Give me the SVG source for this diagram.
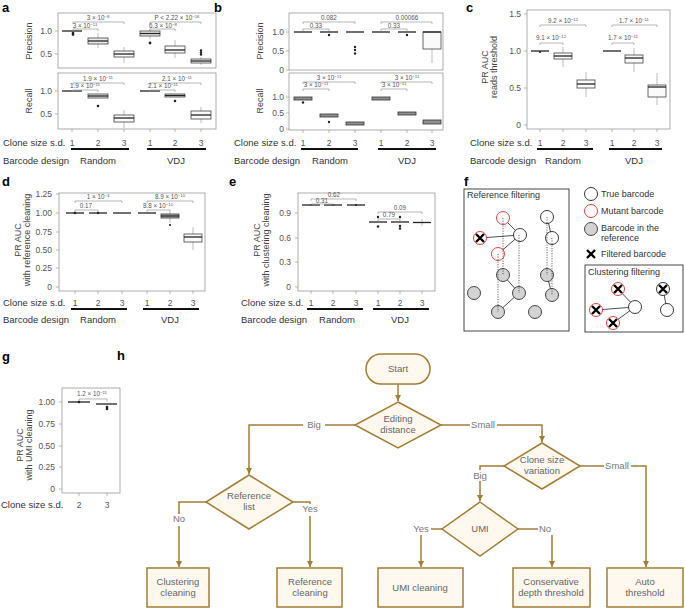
<svg xmlns="http://www.w3.org/2000/svg" width="685" height="608" viewBox="0 0 685 608">
<defs>
<marker id="ah" markerUnits="userSpaceOnUse" markerWidth="7" markerHeight="7" refX="6" refY="3" orient="auto"><path d="M0,0 L6,3 L0,6 z" fill="#a47d35"/></marker>
</defs>
<style>
text{font-family:"Liberation Sans",Arial,sans-serif;fill:#3a3a3a}
.pl{font-size:13px;font-weight:bold;fill:#000}
.ax{font-size:8.5px;fill:#555;text-anchor:end}
.xt{font-size:8.5px;fill:#555;text-anchor:middle}
.yl{font-size:9px;fill:#444;text-anchor:middle}
.cs{font-size:9.5px;fill:#333}
.gm{font-size:9.5px;fill:#333;text-anchor:middle}
.pv{font-size:6.3px;fill:#555;text-anchor:middle}
.sp{font-size:4.3px}
.fr{fill:none;stroke:#9a9a9a;stroke-width:0.8}
.bx{fill:#ececec;stroke:#444;stroke-width:0.8}
.bw{fill:#fafafa;stroke:#444;stroke-width:0.8}
.bd{fill:#8f8f8f;stroke:#333;stroke-width:0.8}
.md{stroke:#222;stroke-width:1.3}
.wh{stroke:#aaa;stroke-width:0.8}
.br{fill:none;stroke:#9a9a9a;stroke-width:0.7}
.gl{stroke:#111;stroke-width:1.8}
.tk{stroke:#9a9a9a;stroke-width:0.7}
.dt{fill:#222}
.lg{font-size:9px;fill:#333}
.cw{fill:#fff;stroke:#222;stroke-width:0.9}
.cr{fill:#fff;stroke:#e0443c;stroke-width:1}
.cg{fill:#d3d3d3;stroke:#333;stroke-width:0.9}
.xm{stroke:#000;stroke-width:2.3}
.sl{stroke:#222;stroke-width:0.8}
.dl{stroke:#222;stroke-width:0.7;stroke-dasharray:1.2 1.3}
.fb{fill:none;stroke:#333;stroke-width:0.9}
.fc{fill:#fef8ee;stroke:#a47d35;stroke-width:1.5}
.fl{fill:none;stroke:#a47d35;stroke-width:1.5}
.ft{font-size:9.5px;fill:#666;text-anchor:middle}
.lb{font-size:9.5px;fill:#777;text-anchor:middle}
.lbg{fill:#fff}
</style>

<!-- Panel a -->
<g id="panel-a">
<text class="pl" x="2" y="12">a</text>
<rect class="fr" x="58" y="13" width="158" height="55"/>
<rect class="fr" x="58" y="73" width="158" height="56"/>
<path class="tk" d="M55,31H58M55,54H58M55,91H58M55,114H58M72,129V132M98,129V132M124,129V132M150,129V132M175,129V132M201,129V132"/>
<text class="ax" x="52" y="34">1.0</text><text class="ax" x="52" y="57">0.5</text>
<text class="ax" x="52" y="94">1.0</text><text class="ax" x="52" y="117">0.5</text>
<text class="yl" transform="translate(32,41) rotate(-90)">Precision</text>
<text class="yl" transform="translate(32,101) rotate(-90)">Recall</text>
<line class="md" x1="62" y1="31" x2="82" y2="31"/><circle class="dt" cx="73" cy="33" r="1.3"/><circle class="dt" cx="73" cy="34.6" r="1.3"/>
<line class="wh" x1="98" y1="33" x2="98" y2="48"/><rect class="bx" x="88" y="38" width="20" height="6"/><line class="md" x1="88" y1="41" x2="108" y2="41"/>
<line class="wh" x1="124" y1="47" x2="124" y2="63"/><rect class="bw" x="114" y="51" width="20" height="6"/><line class="md" x1="114" y1="54" x2="134" y2="54"/>
<line class="wh" x1="150" y1="29" x2="150" y2="39"/><rect class="bx" x="140" y="31" width="20" height="5"/><line class="md" x1="140" y1="33.5" x2="160" y2="33.5"/><circle class="dt" cx="150" cy="43" r="1.4"/>
<line class="wh" x1="175" y1="40" x2="175" y2="58"/><rect class="bw" x="165" y="46" width="20" height="7"/><line class="md" x1="165" y1="50" x2="185" y2="50"/>
<line class="wh" x1="201" y1="57" x2="201" y2="65"/><rect class="bw" x="191" y="59" width="20" height="4"/><line class="md" x1="191" y1="61" x2="211" y2="61"/>
<circle class="dt" cx="201" cy="50.5" r="1.2"/><circle class="dt" cx="201" cy="52.5" r="1.2"/><circle class="dt" cx="201" cy="54.5" r="1.2"/>
<line class="md" x1="62" y1="91" x2="82" y2="91"/>
<rect class="bx" x="88" y="94" width="20" height="4"/><line class="md" x1="88" y1="96" x2="108" y2="96"/><circle class="dt" cx="98" cy="106" r="1.3"/>
<line class="wh" x1="124" y1="110" x2="124" y2="128"/><rect class="bw" x="114" y="115" width="20" height="7"/><line class="md" x1="114" y1="118" x2="134" y2="118"/>
<line class="md" x1="140" y1="91" x2="160" y2="91"/>
<rect class="bx" x="165" y="94" width="20" height="3"/><line class="md" x1="165" y1="95.5" x2="185" y2="95.5"/><circle class="dt" cx="175" cy="101" r="1.3"/>
<line class="wh" x1="201" y1="107" x2="201" y2="123"/><rect class="bw" x="191" y="111" width="20" height="8"/><line class="md" x1="191" y1="115" x2="211" y2="115"/>
<path class="br" d="M73,24V22H124V24M73,31V29H98V31M150,24V22H201V24M150,31V29H175V31"/>
<text class="pv" x="98" y="20">3 × 10<tspan class="sp" dy="-2.5">−8</tspan></text>
<text class="pv" x="85" y="28">3 × 10<tspan class="sp" dy="-2.5">−11</tspan></text>
<text class="pv" x="177" y="20">P &lt; 2.22 × 10<tspan class="sp" dy="-2.5">−16</tspan></text>
<text class="pv" x="163" y="28">6.3 × 10<tspan class="sp" dy="-2.5">−8</tspan></text>
<path class="br" d="M73,85V83H124V85M73,92V90H98V92M150,85V83H201V85M150,92V90H175V92"/>
<text class="pv" x="98" y="81">1.9 × 10<tspan class="sp" dy="-2.5">−11</tspan></text>
<text class="pv" x="85" y="88">1.9 × 10<tspan class="sp" dy="-2.5">−11</tspan></text>
<text class="pv" x="177" y="81">2.1 × 10<tspan class="sp" dy="-2.5">−11</tspan></text>
<text class="pv" x="163" y="88">2.1 × 10<tspan class="sp" dy="-2.5">−11</tspan></text>
<text class="cs" x="3" y="146">Clone size s.d.</text>
<text class="xt" x="72" y="146">1</text><text class="xt" x="98" y="146">2</text><text class="xt" x="124" y="146">3</text>
<text class="xt" x="150" y="146">1</text><text class="xt" x="175" y="146">2</text><text class="xt" x="201" y="146">3</text>
<path class="gl" d="M71,149H129M147,149H206"/>
<text class="cs" x="3" y="164">Barcode design</text>
<text class="gm" x="98" y="164">Random</text><text class="gm" x="176" y="164">VDJ</text>
</g>

<!-- Panel b -->
<g id="panel-b">
<text class="pl" x="214" y="12">b</text>
<rect class="fr" x="289" y="13" width="154" height="57"/>
<rect class="fr" x="289" y="73" width="154" height="57"/>
<path class="tk" d="M286,32H289M286,51H289M286,70H289M286,97H289M286,113H289M286,129H289M303,130V133M329,130V133M355,130V133M381,130V133M407,130V133M432,130V133"/>
<text class="ax" x="284" y="35">1.0</text><text class="ax" x="284" y="54">0.5</text><text class="ax" x="284" y="73">0</text>
<text class="ax" x="284" y="100">1.0</text><text class="ax" x="284" y="116">0.5</text><text class="ax" x="284" y="132">0</text>
<text class="yl" transform="translate(263,41) rotate(-90)">Precision</text>
<text class="yl" transform="translate(263,101) rotate(-90)">Recall</text>
<line class="md" x1="294" y1="32" x2="312" y2="32"/>
<line class="md" x1="320" y1="32" x2="338" y2="32"/><circle class="dt" cx="329" cy="35" r="1.2"/>
<line class="md" x1="346" y1="32" x2="364" y2="32"/><circle class="dt" cx="355" cy="47" r="1.2"/><circle class="dt" cx="355" cy="50" r="1.2"/><circle class="dt" cx="355" cy="53.5" r="1.2"/>
<line class="md" x1="372" y1="32" x2="390" y2="32"/>
<line class="md" x1="398" y1="32" x2="416" y2="32"/><circle class="dt" cx="407" cy="35" r="1.2"/>
<line class="wh" x1="432" y1="49" x2="432" y2="63"/><rect class="bw" x="423" y="32" width="18" height="17"/><line class="md" x1="423" y1="32" x2="441" y2="32"/>
<rect class="bd" x="294" y="97" width="18" height="3"/><circle class="dt" cx="303" cy="102.5" r="1.2"/>
<rect class="bd" x="320" y="114" width="18" height="3"/><circle class="dt" cx="329" cy="122" r="1.2"/>
<rect class="bd" x="346" y="122" width="18" height="3"/>
<rect class="bd" x="372" y="97" width="18" height="3"/>
<rect class="bd" x="398" y="112" width="18" height="3"/>
<rect class="bd" x="423" y="120" width="18" height="4"/>
<path class="br" d="M303,24V22H355V24M303,31V29H329V31M381,24V22H432V24M381,31V29H407V31"/>
<text class="pv" x="329" y="20">0.082</text>
<text class="pv" x="316" y="28">0.33</text>
<text class="pv" x="407" y="20">0.00066</text>
<text class="pv" x="394" y="28">0.33</text>
<path class="br" d="M303,84V82H355V84M303,91V89H329V91M381,84V82H432V84M381,91V89H407V91"/>
<text class="pv" x="329" y="80">3 × 10<tspan class="sp" dy="-2.5">−11</tspan></text>
<text class="pv" x="316" y="87">3 × 10<tspan class="sp" dy="-2.5">−11</tspan></text>
<text class="pv" x="407" y="80">3 × 10<tspan class="sp" dy="-2.5">−11</tspan></text>
<text class="pv" x="394" y="87">3 × 10<tspan class="sp" dy="-2.5">−11</tspan></text>
<text class="cs" x="234" y="146">Clone size s.d.</text>
<text class="xt" x="303" y="146">1</text><text class="xt" x="329" y="146">2</text><text class="xt" x="355" y="146">3</text>
<text class="xt" x="381" y="146">1</text><text class="xt" x="407" y="146">2</text><text class="xt" x="432" y="146">3</text>
<path class="gl" d="M301,149H358M378,149H436"/>
<text class="cs" x="234" y="164">Barcode design</text>
<text class="gm" x="330" y="164">Random</text><text class="gm" x="407" y="164">VDJ</text>
</g>

<!-- Panel c -->
<g id="panel-c">
<text class="pl" x="466" y="12">c</text>
<rect class="fr" x="527" y="10" width="143" height="119"/>
<path class="tk" d="M524,14H527M524,51H527M524,88H527M524,125H527M540,129V132M563,129V132M586,129V132M612,129V132M634,129V132M657,129V132"/>
<text class="ax" x="521" y="17">1.5</text><text class="ax" x="521" y="54">1.0</text><text class="ax" x="521" y="91">0.5</text><text class="ax" x="521" y="128">0</text>
<text class="yl" transform="translate(488,67) rotate(-90)">PR AUC</text>
<text class="yl" transform="translate(497,67) rotate(-90)">reads threshold</text>
<line class="md" x1="531" y1="51" x2="549" y2="51"/><circle class="dt" cx="540" cy="52" r="1.1"/>
<line class="wh" x1="563" y1="47" x2="563" y2="67"/><rect class="bw" x="554" y="53" width="18" height="6"/><line class="md" x1="554" y1="56" x2="572" y2="56"/>
<line class="wh" x1="586" y1="72" x2="586" y2="97"/><rect class="bw" x="577" y="80" width="18" height="8"/><line class="md" x1="577" y1="84" x2="595" y2="84"/>
<line class="md" x1="603" y1="51" x2="621" y2="51"/>
<line class="wh" x1="634" y1="48" x2="634" y2="72"/><rect class="bw" x="625" y="55" width="18" height="8"/><line class="md" x1="625" y1="58" x2="643" y2="58"/>
<line class="wh" x1="657" y1="73" x2="657" y2="105"/><rect class="bw" x="648" y="85" width="18" height="12"/><line class="md" x1="648" y1="87" x2="666" y2="87"/>
<path class="br" d="M540,27V25H586V27M540,45V43H563V45M612,27V25H657V27M612,45V43H634V45"/>
<text class="pv" x="563" y="23">9.2 × 10<tspan class="sp" dy="-2.5">−12</tspan></text>
<text class="pv" x="551" y="40">9.1 × 10<tspan class="sp" dy="-2.5">−12</tspan></text>
<text class="pv" x="634" y="23">1.7 × 10<tspan class="sp" dy="-2.5">−11</tspan></text>
<text class="pv" x="623" y="40">1.7 × 10<tspan class="sp" dy="-2.5">−11</tspan></text>
<text class="cs" x="470" y="146">Clone size s.d.</text>
<text class="xt" x="540" y="146">1</text><text class="xt" x="563" y="146">2</text><text class="xt" x="586" y="146">3</text>
<text class="xt" x="612" y="146">1</text><text class="xt" x="634" y="146">2</text><text class="xt" x="657" y="146">3</text>
<path class="gl" d="M537,149H593M609,149H662"/>
<text class="cs" x="470" y="164">Barcode design</text>
<text class="gm" x="563" y="164">Random</text><text class="gm" x="634" y="164">VDJ</text>
</g>

<!-- Panel d -->
<g id="panel-d">
<text class="pl" x="2" y="186">d</text>
<rect class="fr" x="59" y="193" width="146" height="98"/>
<path class="tk" d="M56,194H59M56,213H59M56,232H59M56,250H59M56,268H59M56,287H59M75,291V294M98,291V294M122,291V294M147,291V294M170,291V294M193,291V294"/>
<text class="ax" x="52" y="197">1.25</text><text class="ax" x="52" y="216">1.00</text><text class="ax" x="52" y="235">0.75</text>
<text class="ax" x="52" y="253">0.50</text><text class="ax" x="52" y="271">0.25</text><text class="ax" x="52" y="290">0</text>
<text class="yl" transform="translate(21,240) rotate(-90)">PR AUC</text>
<text class="yl" transform="translate(30,240) rotate(-90)">with reference cleaning</text>
<line class="md" x1="66" y1="213" x2="84" y2="213"/><circle class="dt" cx="75" cy="213" r="1.2"/>
<line class="md" x1="89" y1="213" x2="107" y2="213"/><circle class="dt" cx="98" cy="213" r="1.2"/>
<line class="md" x1="113" y1="213" x2="131" y2="213"/>
<line class="md" x1="138" y1="213" x2="156" y2="213"/>
<line class="wh" x1="170" y1="212" x2="170" y2="223"/><rect class="bd" x="161" y="214" width="18" height="4" style="fill:#b5b5b5"/><line class="md" x1="161" y1="216" x2="179" y2="216"/><circle class="dt" cx="170" cy="225" r="1.1"/>
<line class="wh" x1="193" y1="227" x2="193" y2="250"/><rect class="bw" x="184" y="234" width="18" height="8"/><line class="md" x1="184" y1="237" x2="202" y2="237"/>
<path class="br" d="M75,203V201H122V203M75,212V210H98V212M147,203V201H193V203M147,212V210H170V212"/>
<text class="pv" x="98" y="199">1 × 10<tspan class="sp" dy="-2.5">−3</tspan></text>
<text class="pv" x="86" y="208">0.17</text>
<text class="pv" x="170" y="199">8.9 × 10<tspan class="sp" dy="-2.5">−10</tspan></text>
<text class="pv" x="158" y="208">8.8 × 10<tspan class="sp" dy="-2.5">−10</tspan></text>
<text class="cs" x="3" y="306">Clone size s.d.</text>
<text class="xt" x="75" y="306">1</text><text class="xt" x="98" y="306">2</text><text class="xt" x="122" y="306">3</text>
<text class="xt" x="147" y="306">1</text><text class="xt" x="170" y="306">2</text><text class="xt" x="193" y="306">3</text>
<path class="gl" d="M71,309H127M143,309H199"/>
<text class="cs" x="3" y="323">Barcode design</text>
<text class="gm" x="98" y="323">Random</text><text class="gm" x="170" y="323">VDJ</text>
</g>

<!-- Panel e -->
<g id="panel-e">
<text class="pl" x="229" y="186">e</text>
<rect class="fr" x="298" y="193" width="137" height="98"/>
<path class="tk" d="M295,213H298M295,238H298M295,262H298M295,287H298M311,291V294M333,291V294M356,291V294M378,291V294M400,291V294M422,291V294"/>
<text class="ax" x="291" y="216">0.9</text><text class="ax" x="291" y="241">0.6</text><text class="ax" x="291" y="265">0.3</text><text class="ax" x="291" y="290">0</text>
<text class="yl" transform="translate(260,240) rotate(-90)">PR AUC</text>
<text class="yl" transform="translate(269,240) rotate(-90)">with clustering cleaning</text>
<line class="md" x1="302" y1="205" x2="320" y2="205"/><circle class="dt" cx="311" cy="205" r="1.1"/>
<line class="md" x1="324" y1="205" x2="342" y2="205"/><circle class="dt" cx="333" cy="205" r="1.1"/>
<line class="md" x1="347" y1="205" x2="365" y2="205"/><circle class="dt" cx="356" cy="205" r="1.1"/>
<line class="md" x1="369" y1="222" x2="387" y2="222"/><circle class="dt" cx="378" cy="217" r="1.2"/><circle class="dt" cx="378" cy="226.5" r="1.2"/>
<line class="md" x1="391" y1="222" x2="409" y2="222"/><circle class="dt" cx="400" cy="217" r="1.2"/><circle class="dt" cx="400" cy="226" r="1.2"/><circle class="dt" cx="400" cy="228.5" r="1.2"/>
<line class="wh" x1="422" y1="219" x2="422" y2="226"/><line class="md" x1="413" y1="222.5" x2="431" y2="222.5"/>
<path class="br" d="M311,201V199H356V201M311,206V204H333V206M378,214V212H422V214M378,221V219H400V221"/>
<text class="pv" x="334" y="197">0.62</text>
<text class="pv" x="322" y="203">0.31</text>
<text class="pv" x="400" y="210">0.09</text>
<text class="pv" x="389" y="217">0.79</text>
<text class="cs" x="241" y="306">Clone size s.d.</text>
<text class="xt" x="311" y="306">1</text><text class="xt" x="333" y="306">2</text><text class="xt" x="356" y="306">3</text>
<text class="xt" x="378" y="306">1</text><text class="xt" x="400" y="306">2</text><text class="xt" x="422" y="306">3</text>
<path class="gl" d="M307,309H363M373,309H429"/>
<text class="cs" x="241" y="323">Barcode design</text>
<text class="gm" x="337" y="323">Random</text><text class="gm" x="400" y="323">VDJ</text>
</g>

<!-- Panel f -->
<g id="panel-f">
<text class="pl" x="464" y="186">f</text>
<rect class="fb" x="464" y="189" width="105" height="142"/>
<text class="lg" x="467" y="198">Reference filtering</text>
<path class="sl" d="M503,218L520,235M480,238L520,235M498,254L520,235M503,275L519,293M519,293L498,312M547,217L552,238M547,275L552,295"/>
<circle class="cr" cx="503" cy="218" r="6.5"/>
<circle class="cw" cx="520" cy="235" r="6.5"/>
<circle class="cr" cx="480" cy="238" r="6.5"/><path class="xm" d="M476,234L484,242M484,234L476,242"/>
<circle class="cr" cx="498" cy="254" r="6.5"/>
<circle class="cg" cx="503" cy="275" r="6.5"/>
<circle class="cg" cx="519" cy="293" r="6.5"/>
<circle class="cg" cx="498" cy="312" r="6.5"/>
<circle class="cg" cx="474" cy="293" r="6.5"/>
<circle class="cg" cx="535" cy="312" r="6.5"/>
<circle class="cw" cx="547" cy="217" r="6.5"/>
<circle class="cw" cx="552" cy="238" r="6.5"/>
<circle class="cg" cx="547" cy="275" r="6.5"/>
<circle class="cg" cx="552" cy="295" r="6.5"/>
<path class="dl" d="M498,254V312M503,218V275M519,235V293M547,217V275M552,238V295"/>
<circle class="cw" cx="591" cy="194" r="6.5"/><text class="lg" x="601" y="197">True barcode</text>
<circle class="cr" cx="591" cy="211" r="6.5"/><text class="lg" x="601" y="214">Mutant barcode</text>
<circle class="cg" cx="591" cy="229" r="6.5"/><text class="lg" x="601" y="231">Barcode in the</text><text class="lg" x="601" y="241">reference</text>
<path class="xm" d="M587,250L595,258M595,250L587,258"/><text class="lg" x="601" y="257">Filtered barcode</text>
<rect class="fb" x="585" y="265" width="98" height="67"/>
<text class="lg" x="588" y="275">Clustering filtering</text>
<path class="sl" d="M618,289L635,307M596,310L635,307M613,323L635,307M663,289L667,310"/>
<circle class="cr" cx="618" cy="289" r="6.5"/><path class="xm" d="M614,285L622,293M622,285L614,293"/>
<circle class="cw" cx="635" cy="307" r="6.5"/>
<circle class="cr" cx="596" cy="310" r="6.5"/><path class="xm" d="M592,306L600,314M600,306L592,314"/>
<circle class="cr" cx="613" cy="323" r="6.5"/><path class="xm" d="M609,319L617,327M617,319L609,327"/>
<circle class="cw" cx="663" cy="289" r="6.5"/><path class="xm" d="M659,285L667,293M667,285L659,293"/>
<circle class="cw" cx="667" cy="310" r="6.5"/>
</g>

<!-- Panel g -->
<g id="panel-g">
<text class="pl" x="2" y="361">g</text>
<rect class="fr" x="62" y="388" width="58" height="105"/>
<path class="tk" d="M59,402H62M59,424H62M59,446H62M59,467H62M59,489H62M79,493V496M107,493V496"/>
<text class="ax" x="55" y="405">1.00</text><text class="ax" x="55" y="427">0.75</text><text class="ax" x="55" y="449">0.50</text><text class="ax" x="55" y="470">0.25</text><text class="ax" x="55" y="492">0</text>
<text class="yl" transform="translate(23,445) rotate(-90)">PR AUC</text>
<text class="yl" transform="translate(32,445) rotate(-90)">with UMI cleaning</text>
<line class="md" x1="68" y1="402" x2="90" y2="402"/><circle class="dt" cx="79" cy="402" r="1.3"/>
<line class="md" x1="96" y1="404" x2="117" y2="404"/><circle class="dt" cx="107" cy="407" r="1.3"/><circle class="dt" cx="107" cy="409" r="1.3"/>
<path class="br" d="M79,401V399H107V401"/>
<text class="pv" x="92" y="396">1.2 × 10<tspan class="sp" dy="-2.5">−11</tspan></text>
<text class="cs" x="1" y="508">Clone size s.d.</text>
<text class="xt" x="79" y="508">2</text><text class="xt" x="107" y="508">3</text>
</g>

<!-- Panel h flowchart -->
<text class="pl" x="117" y="360">h</text>
<g id="connectors">
<path class="fl" d="M398,384V401" marker-end="url(#ah)"/>
<path class="fl" d="M355,425H249V474" marker-end="url(#ah)"/>
<path class="fl" d="M441,425H542V442" marker-end="url(#ah)"/>
<path class="fl" d="M504,466H480V501" marker-end="url(#ah)"/>
<path class="fl" d="M580,466H646V567" marker-end="url(#ah)"/>
<path class="fl" d="M442,529H421V567" marker-end="url(#ah)"/>
<path class="fl" d="M518,529H552V567" marker-end="url(#ah)"/>
<path class="fl" d="M206,502H179V567" marker-end="url(#ah)"/>
<path class="fl" d="M293,502H310V567" marker-end="url(#ah)"/>
<rect class="lbg" x="303" y="419" width="22" height="12"/><text class="lb" x="314" y="428">Big</text>
<rect class="lbg" x="470" y="419" width="27" height="12"/><text class="lb" x="483" y="428">Small</text>
<rect class="lbg" x="471" y="470" width="18" height="11"/><text class="lb" x="480" y="479">Big</text>
<rect class="lbg" x="604" y="460" width="27" height="12"/><text class="lb" x="617" y="469">Small</text>
<rect class="lbg" x="412" y="523" width="19" height="12"/><text class="lb" x="421" y="532">Yes</text>
<rect class="lbg" x="538" y="523" width="16" height="12"/><text class="lb" x="545" y="532">No</text>
<rect class="lbg" x="171" y="514" width="16" height="12"/><text class="lb" x="179" y="522">No</text>
<rect class="lbg" x="301" y="504" width="19" height="12"/><text class="lb" x="310" y="512">Yes</text>
</g>
<g id="node-start"><rect class="fc" x="366" y="354" width="64" height="30" rx="15"/><text class="ft" x="398" y="372">Start</text></g>
<g id="node-editing"><polygon class="fc" points="398,402 441,425 398,448 355,425"/><text class="ft" x="398" y="422">Editing</text><text class="ft" x="398" y="433">distance</text></g>
<g id="node-clone"><polygon class="fc" points="542,443 580,466 542,489 504,466"/><text class="ft" x="542" y="463">Clone size</text><text class="ft" x="542" y="474">variation</text></g>
<g id="node-reflist"><polygon class="fc" points="249,475 293,502 249,529 206,502"/><text class="ft" x="249" y="499">Reference</text><text class="ft" x="249" y="510">list</text></g>
<g id="node-umi"><polygon class="fc" points="480,502 518,529 480,556 442,529"/><text class="ft" x="480" y="532">UMI</text></g>
<g id="node-clustering"><rect class="fc" x="147" y="568" width="62" height="39"/><text class="ft" x="178" y="585">Clustering</text><text class="ft" x="178" y="596">cleaning</text></g>
<g id="node-refclean"><rect class="fc" x="277" y="568" width="65" height="39"/><text class="ft" x="310" y="585">Reference</text><text class="ft" x="310" y="596">cleaning</text></g>
<g id="node-umiclean"><rect class="fc" x="378" y="568" width="85" height="39"/><text class="ft" x="420" y="591">UMI cleaning</text></g>
<g id="node-conservative"><rect class="fc" x="513" y="568" width="77" height="39"/><text class="ft" x="551" y="585">Conservative</text><text class="ft" x="551" y="596">depth threshold</text></g>
<g id="node-auto"><rect class="fc" x="607" y="568" width="76" height="39"/><text class="ft" x="645" y="585">Auto</text><text class="ft" x="645" y="596">threshold</text></g>
</svg>
